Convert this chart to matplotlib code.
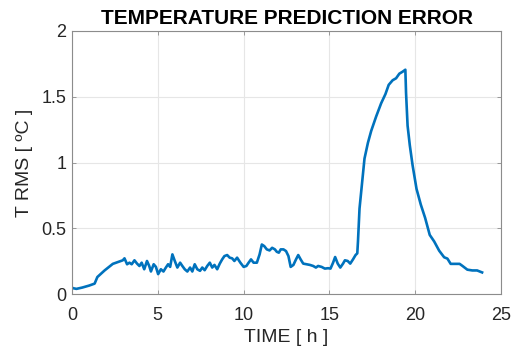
import matplotlib
matplotlib.use("Agg")
import matplotlib.pyplot as plt

# time [h] and RMS error [degC]
time_h = [0.0, 0.07, 0.26, 0.6, 1.0, 1.32, 1.48, 1.9, 2.38, 2.96, 3.06, 3.21, 3.35, 3.48,
          3.64, 3.79, 3.93, 4.06, 4.21, 4.37, 4.50, 4.60, 4.76, 4.89, 5.02, 5.18, 5.33,
          5.47, 5.60, 5.72, 5.85, 5.99, 6.14, 6.30, 6.43, 6.57, 6.72, 6.88, 7.01, 7.15,
          7.30, 7.46, 7.59, 7.73, 7.88, 8.03, 8.17, 8.30, 8.46, 8.61, 8.75, 8.88, 9.04,
          9.19, 9.33, 9.46, 9.62, 9.81, 10.00, 10.16, 10.29, 10.43, 10.58, 10.77, 10.93,
          11.06, 11.20, 11.35, 11.51, 11.66, 11.82, 11.93, 12.05, 12.16, 12.32, 12.47,
          12.61, 12.74, 12.90, 13.05, 13.18, 13.32, 13.47, 13.67, 13.86, 14.05, 14.21,
          14.34, 14.54, 14.73, 14.92, 15.06, 15.21, 15.33, 15.48, 15.63, 15.79, 15.90,
          16.06, 16.21, 16.37, 16.52, 16.62, 16.66, 16.75, 16.9, 17.04, 17.24, 17.43,
          17.72, 18.01, 18.26, 18.45, 18.68, 18.88, 19.07, 19.26, 19.42, 19.46, 19.55,
          19.68, 19.84, 20.07, 20.32, 20.57, 20.84, 21.1, 21.39, 21.68, 21.87, 22.06,
          22.35, 22.58, 22.74, 23.03, 23.32, 23.6, 23.89]
rms_err = [0.05, 0.045, 0.04, 0.05, 0.065, 0.08, 0.13, 0.18, 0.23, 0.257, 0.272, 0.227,
           0.239, 0.227, 0.257, 0.232, 0.214, 0.239, 0.189, 0.252, 0.214, 0.172, 0.227,
           0.207, 0.152, 0.189, 0.172, 0.202, 0.227, 0.207, 0.302, 0.252, 0.202, 0.239,
           0.214, 0.189, 0.172, 0.202, 0.172, 0.227, 0.189, 0.177, 0.202, 0.182, 0.214,
           0.239, 0.202, 0.222, 0.189, 0.232, 0.264, 0.289, 0.297, 0.277, 0.272, 0.252,
           0.277, 0.239, 0.207, 0.214, 0.239, 0.264, 0.239, 0.239, 0.302, 0.377, 0.365,
           0.340, 0.332, 0.352, 0.340, 0.322, 0.315, 0.340, 0.340, 0.327, 0.289, 0.207,
           0.222, 0.264, 0.297, 0.264, 0.232, 0.227, 0.222, 0.214, 0.202, 0.214, 0.207,
           0.194, 0.197, 0.194, 0.239, 0.282, 0.232, 0.202, 0.232, 0.257, 0.252, 0.232,
           0.264, 0.297, 0.31, 0.40, 0.65, 0.85, 1.03, 1.15, 1.24, 1.35, 1.45, 1.52,
           1.59, 1.625, 1.64, 1.675, 1.69, 1.705, 1.53, 1.28, 1.13, 0.98, 0.80, 0.68,
           0.58, 0.45, 0.40, 0.33, 0.28, 0.27, 0.23, 0.23, 0.23, 0.215, 0.186, 0.18,
           0.18, 0.165]

x_ticks = [0, 5, 10, 15, 20, 25]
y_ticks = [0, 0.5, 1, 1.5, 2]
y_tick_labels = ["0", "0.5", "1", "1.5", "2"]

plt.rcParams["font.family"] = ["Liberation Sans", "DejaVu Sans"]
text_col = "#262626"
axis_col = "#8c8c8c"

fig = plt.figure(figsize=(5.14, 3.51), dpi=100)
ax = fig.add_axes([0.140, 0.162, 0.835, 0.750])

ax.plot(time_h, rms_err, color="#0072BD", linewidth=1.9)

ax.set_xlim(0, 25)
ax.set_ylim(0, 2)
ax.set_xticks(x_ticks)
ax.set_yticks(y_ticks)
ax.set_yticklabels(y_tick_labels)
ax.grid(True, color="#e6e6e6", linewidth=0.8)
ax.set_axisbelow(True)

ax.tick_params(direction="in", top=True, right=True, length=3, width=0.6,
               color=axis_col, labelsize=13, labelcolor=text_col)
ax.tick_params(axis="x", pad=9)
ax.tick_params(axis="y", pad=4)
for s in ax.spines.values():
    s.set_color(axis_col)
    s.set_linewidth(0.8)

ax.set_xlabel("TIME [ h ]", fontsize=14, color=text_col, labelpad=4)
ax.set_ylabel("T RMS [ ºC ]", fontsize=14, color=text_col, labelpad=6)
ax.set_title("TEMPERATURE PREDICTION ERROR", fontsize=15, fontweight="bold",
             color="#000000", pad=5)

fig.savefig("out.png", dpi=100)
